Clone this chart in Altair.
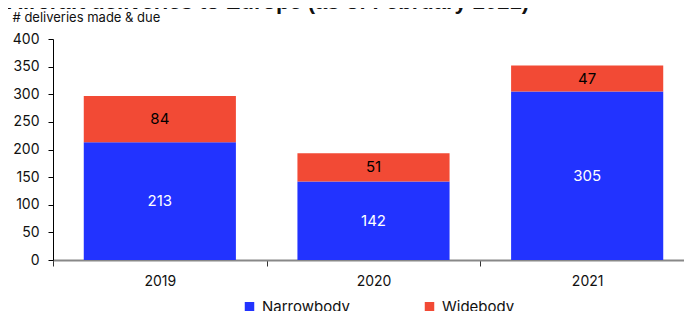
import altair as alt
import pandas as pd

years = ["2019", "2020", "2021"]
narrowbody = [213, 142, 305]
widebody = [84, 51, 47]
types = ["Narrowbody", "Widebody"]
colors = ["#2233FF", "#F24A35"]
text_colors = ["white", "black"]
y_ticks = [0, 50, 100, 150, 200, 250, 300, 350, 400]

rows = []
for i, y in enumerate(years):
    rows.append({"year": y, "type": types[0], "value": narrowbody[i], "order": 0, "tcolor": text_colors[0]})
    rows.append({"year": y, "type": types[1], "value": widebody[i], "order": 1, "tcolor": text_colors[1]})
df = pd.DataFrame(rows)

FONT = "Inter"

base = alt.Chart(df).transform_stack(
    stack="value", groupby=["year"], as_=["y0", "y1"], sort=[alt.SortField("order")]
).transform_calculate(mid="(datum.y0 + datum.y1) / 2")

xscale = alt.Scale(domain=years, range=[0, 641], paddingInner=0, paddingOuter=0)
xaxis = alt.Axis(
    labelAngle=0, tickBand="extent", domainColor="#888888", domainWidth=2,
    tickColor="#333333", tickSize=6, labelPadding=8, labelFontSize=14,
    labelColor="#111111", labelFont=FONT,
)
yscale = alt.Scale(domain=[0, 400], nice=False)
yaxis = alt.Axis(
    values=y_ticks, grid=False, labelOverlap=False, tickCount=9,
    domainColor="black", tickColor="black", tickSize=5, labelPadding=9,
    labelFontSize=14, labelColor="#111111", labelFont=FONT,
    titleAngle=0, titleAlign="left", titleBaseline="alphabetic",
    titleX=-41, titleY=-18, titleFont=FONT, titleFontSize=13,
    titleFontWeight="normal", titleColor="#111111",
)
YTITLE = "# deliveries made & due"

bars = base.mark_bar(width=alt.RelativeBandSize(0.712)).encode(
    x=alt.X("year:N", title=None, sort=years, scale=xscale, axis=xaxis),
    y=alt.Y("y0:Q", title=YTITLE, scale=yscale, axis=yaxis),
    y2="y1:Q",
    color=alt.Color(
        "type:N",
        scale=alt.Scale(domain=types, range=colors),
        legend=alt.Legend(
            title=None, orient="none", legendX=189, legendY=260, direction="horizontal",
            symbolType="square", symbolSize=90, symbolStrokeWidth=0, labelOffset=5,
            labelFontSize=15, labelFont=FONT, labelColor="#111111", columnPadding=72, padding=0,
        ),
    ),
)

labels = base.mark_text(fontSize=15, font=FONT).encode(
    x=alt.X("year:N", title=None, sort=years, scale=xscale, axis=xaxis),
    y=alt.Y("mid:Q", title=YTITLE, scale=yscale, axis=yaxis),
    text=alt.Text("value:Q"),
    color=alt.Color("tcolor:N", scale=None),
)

chart = alt.layer(bars, labels).properties(
    width=631,
    height=221,
    autosize=alt.AutoSizeParams(type="none"),
    padding={"left": 45, "top": 31, "right": 0, "bottom": 60},
    title=alt.Title(
        text="Aircraft deliveries to Europe (as of February 2021)",
        anchor="start", frame="group", fontSize=22, fontWeight="bold",
        font="Liberation Sans", color="#111111", dx=-46, offset=4, dy=7,
    ),
).configure_view(stroke=None)

chart.save("out.html", embed_options={"renderer": "svg", "actions": False})
